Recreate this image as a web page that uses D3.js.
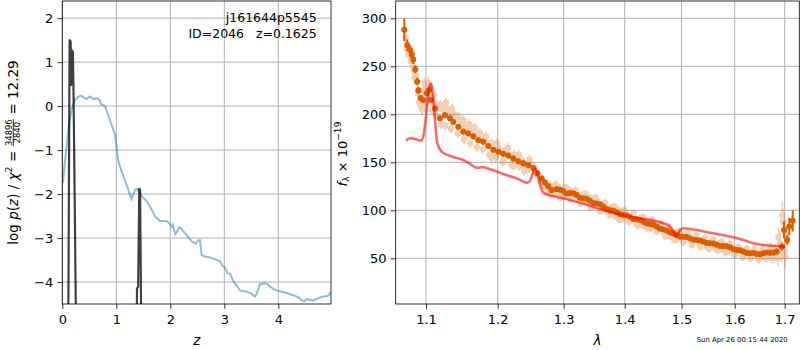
<!DOCTYPE html>
<html>
<head>
<meta charset="utf-8">
<script src="https://cdn.jsdelivr.net/npm/d3@7"></script>
<style>
body { margin: 0; background: #fff; }
svg { font-family: "DejaVu Sans", sans-serif; }
</style>
</head>
<body>
<script>
// ---- left panel: redshift fit ----
var chiZ = [0.01,0.05,0.08,0.12,0.17,0.235,0.29,0.328,0.35,0.39,0.45,0.51,0.575,0.64,0.685,0.73,0.79,0.88,0.976,1.0,1.04,1.1,1.19,1.28,1.35,1.39,1.43,1.47,1.57,1.64,1.72,1.81,1.93,1.97,2.03,2.05,2.09,2.12,2.16,2.19,2.27,2.35,2.40,2.47,2.52,2.55,2.58,2.64,2.73,2.83,2.92,2.97,3.01,3.06,3.11,3.17,3.24,3.29,3.41,3.49,3.57,3.6,3.66,3.75,3.79,3.85,3.94,4.03,4.15,4.28,4.37,4.43,4.48,4.53,4.59,4.65,4.74,4.83,4.91,4.94,4.975];
var chiVal = [-1.75,-1.25,-0.92,-0.45,-0.08,0.14,0.2,0.234,0.24,0.2,0.16,0.22,0.16,0.18,0.14,0.03,0.0,-0.31,-0.65,-0.88,-1.26,-1.49,-1.79,-2.11,-1.9,-1.89,-1.96,-2.05,-2.17,-2.32,-2.51,-2.61,-2.61,-2.65,-2.75,-2.7,-2.91,-2.87,-2.76,-2.77,-2.89,-3.0,-3.08,-3.13,-3.05,-3.05,-3.38,-3.42,-3.44,-3.48,-3.53,-3.64,-3.67,-3.8,-3.82,-3.98,-4.1,-4.19,-4.22,-4.26,-4.33,-4.27,-4.05,-4.03,-4.04,-4.11,-4.18,-4.21,-4.25,-4.3,-4.35,-4.41,-4.44,-4.39,-4.41,-4.42,-4.37,-4.33,-4.32,-4.29,-4.23];

var pzZ = [0.0,0.105,0.111,0.135,0.155,0.165,0.175,0.195,0.205,0.225,0.254,0.26,1.372,1.378,1.383,1.405,1.425,1.44,1.462,1.47,4.976];
var pzLog = [-8,-8,-5,1.5,1.47,0.48,1.27,1.24,0.6,-1.6,-5,-8,-8,-6,-4.15,-4.1,-1.88,-1.9,-5,-8,-8];

var zTicks = [0, 1, 2, 3, 4];
var pTicks = [-4, -3, -2, -1, 0, 1, 2];

// ---- right panel: spectrum ----
// binned points
var specLam = [1.0714,1.0753,1.0788,1.0811,1.0832,1.0858,1.0884,1.0898,1.0930,1.0964,1.1009,1.1040,1.1067,1.1121,1.1188,1.1257,1.1325,1.1371,1.1440,1.1509,1.1579,1.1650,1.1721,1.1792,1.1864,1.1936,1.2009,1.2082,1.2155,1.2229,1.2304,1.2379,1.2454,1.2530,1.2591,1.2658,1.2709,1.2760,1.2813,1.2891,1.2994,1.3100,1.3207,1.3314,1.3422,1.3532,1.3641,1.3752,1.3865,1.3976,1.4090,1.4205,1.4320,1.4437,1.4555,1.4672,1.4792,1.4913,1.5032,1.5155,1.5279,1.5402,1.5527,1.5654,1.5780,1.5909,1.6039,1.6168,1.6300,1.6433,1.6565,1.6701,1.6837,1.6940,1.6986,1.7053,1.7095,1.7166];
var specFlux = [288,272,267,262,257,247,234,225,217,215,222,225,215,206,196,199,196,192,187,182,180,177,173,171.5,167,163,161,159,157,154,151,149,147,144,138.5,133,129,125,121,122,120,118,116,112.5,110,107,104,100,98,95,93,90.6,88,85.7,83,80,77,74,72.5,71,69,67.3,65.6,64,62.8,61.4,58.6,57,55.2,54.5,55.2,55.8,57,62,79.5,69,83,89];
var specErr = [12,6,5,5,5,4,4,4,3,3,3,3,3,3,3,3,3,3,3,3,3,3,3,3,3,3,3,3,3,3,3,3,3,3,3,3,3,3,3,3,2,2,2,2,2,2,2,2,2,2,2,2,2,2,2,2,2,2,2,2,2,2,2,2,2,2,2,2,2,2,2,3,3,4,9,5,9,11];
// extra binned points where the band is dense
var midLam = [1.2942,1.3047,1.3153,1.3260,1.3368,1.3477,1.3586,1.3696,1.3808,1.3920,1.4033,1.4147,1.4262,1.4378,1.4496,1.4613,1.4732,1.4852,1.4972,1.5093,1.5217,1.5340,1.5464,1.5590,1.5717,1.5844,1.5974,1.6103,1.6234,1.6366,1.6499,1.6633,1.6769];
var midFlux = [121.5,117.5,117.8,113,112,107.5,106.2,101.3,99.8,95.8,94.6,91,89.8,86.2,84.9,80.9,79,75.8,72.4,72.2,69.4,68.6,65.9,65.3,62.9,62.6,59.4,58.3,55.5,55.4,54.2,56.1,55.8];
var midErr = [2,2,2,2,2,2,2,2,2,2,2,2,2,2,2,2,2,2,2,2,2,2,2,2,2,2,2,2,2,2,2,2,2];

// unbinned pixels, two passes
var rawLam = [1.073,1.077,1.080,1.082,1.084,1.087,1.089,1.091,1.094,1.096,
  1.098,1.100,1.102,1.104,1.106,1.108,1.110,1.113,1.115,1.118,
  1.120,1.123,1.126,1.128,1.131,1.134,1.137,1.140,1.143,1.146,
  1.149,1.152,1.155,1.158,1.161,1.164,1.167,1.170,1.173,1.176,
  1.179,1.182,1.185,1.188,1.191,1.194,1.197,1.200,1.204,1.208,
  1.212,1.216,1.220,1.224,1.228,1.232,1.236,1.240,1.244,1.248,
  1.252,1.256,1.260,1.264,1.268,1.272,1.276,1.280,1.284,1.288,
  1.292,1.296,1.300,1.305,1.310,1.315,1.320,1.325,1.330,1.336,
  1.342,1.348,1.354,1.360,1.366,1.372,1.378,1.384,1.390,1.396,
  1.402,1.408,1.414,1.420,1.426,1.432,1.438,1.444,1.450,1.456,
  1.462,1.468,1.474,1.480,1.486,1.492,1.498,1.505,1.512,1.519,
  1.526,1.533,1.540,1.547,1.554,1.561,1.568,1.575,1.582,1.589,
  1.596,1.603,1.610,1.617,1.624,1.631,1.638,1.645,1.652,1.659,
  1.666,1.673,1.680,1.686,1.690,1.694,1.697,1.700,1.703];
var rawFlux = [280,262,255,265,245,240,222,212,208,225,
  232,212,230,218,228,205,212,200,210,208,
  190,205,188,206,200,185,201,196,180,195,
  190,174,188,184,170,185,178,166,180,176,
  164,175,170,158,170,165,155,166,162,152,
  163,158,148,158,153,146,152,147,142,148,
  145,140,136,135,128,126,119,116,124,118,
  124,117,122,115,121,113,118,110,116,108,
  113,104,110,101,107,98,103,94,100,91,
  97,89,94,86,92,84,89,81,87,79,
  84,76,80,73,77,70,75,68,73,66,
  71,64,69,62,67,61,65,59,63,57,
  61,55,59,52,58,51,56,52,57,51,
  56,50,58,50,66,56,88,58,74];
var rawErr = [10,8,8,7,7,7,6,6,6,6,
  6,6,6,5,5,5,5,5,5,5,
  5,5,5,5,5,5,5,5,5,5,
  5,5,5,5,5,5,5,5,5,5,
  5,5,5,5,5,5,5,5,5,5,
  5,5,5,5,5,5,5,5,5,5,
  5,5,5,5,5,5,5,5,5,5,
  4,4,4,4,4,4,4,4,4,4,
  4,4,4,4,4,4,4,4,4,4,
  4,4,4,4,4,4,4,4,4,4,
  4,4,4,4,4,4,4,4,4,4,
  4,4,4,4,4,4,4,4,4,4,
  5,5,5,5,5,5,5,5,5,5,
  6,6,7,8,12,10,14,12,10];
var raw2Lam = [1.075,1.085,1.095,1.103,1.111,1.119,1.127,1.135,1.143,1.151,
  1.159,1.167,1.175,1.183,1.191,1.199,1.207,1.215,1.223,1.231,
  1.239,1.247,1.255,1.263,1.271,1.279,1.287,1.295,1.303,1.311,
  1.319,1.327,1.335,1.343,1.351,1.359,1.367,1.375,1.383,1.391,
  1.399,1.407,1.415,1.423,1.431,1.439,1.447,1.455,1.463,1.471,
  1.479,1.487,1.495,1.503,1.511,1.519,1.527,1.535,1.543,1.551,
  1.559,1.567,1.575,1.583,1.591,1.599,1.607,1.615,1.623,1.631,
  1.639,1.647,1.655,1.663,1.671,1.679,1.687,1.695,1.701];
var raw2Flux = [268,238,205,233,220,210,212,206,198,194,
  190,186,180,177,155,170,150,165,146,158,
  141,153,145,130,124,126,127,113,124,112,
  121,107,117,103,113,99,108,95,104,90,
  100,88,97,84,93,81,90,78,86,73,
  82,69,78,67,76,64,74,62,71,60,
  69,58,67,56,65,54,62,51,60,50,
  59,49,60,50,61,52,72,95,52];
var raw2Err = [8,7,6,6,5,5,5,5,5,5,
  5,5,5,5,5,5,5,5,5,5,
  5,5,5,5,5,5,4,4,4,4,
  4,4,4,4,4,4,4,4,4,4,
  4,4,4,4,4,4,4,4,4,4,
  4,4,4,4,4,4,4,4,4,4,
  4,4,4,4,4,4,4,4,4,4,
  5,5,5,5,6,7,10,14,12];

// template fit
var modelLam = [1.0736,1.0788,1.0867,1.0930,1.0964,1.1009,1.1040,1.1067,1.1090,1.1121,1.1152,1.1212,1.1325,1.1487,1.1579,1.1698,1.1792,1.1889,1.2082,1.2280,1.2430,1.2469,1.2506,1.2541,1.2567,1.2606,1.2643,1.2683,1.2760,1.2891,1.3260,1.3641,1.4090,1.4672,1.4779,1.4851,1.4900,1.4942,1.4985,1.5032,1.5155,1.5589,1.5973,1.6168,1.6366,1.6565,1.6837,1.7006];
var modelFlux = [172.2,175,174,172.5,176.7,204.5,227,232,222,194,170,161,156.6,153,149.6,144.4,144.8,142.7,137.8,133.3,128.8,129.8,135,142,142.7,135,124.6,118.3,116,114,108,100.3,93.3,86.5,83.6,77.7,73.2,76,80.2,81.2,80.5,76,71.9,69,65.6,63.9,62.8,62];

var lamTicks = [1.1, 1.2, 1.3, 1.4, 1.5, 1.6, 1.7];
var fluxTicks = [50, 100, 150, 200, 250, 300];

var fs = 13;       // tick font
var labFs = 13.5;  // axis label font
var orange = "#d95f02";

var svg = d3.select("body").append("svg")
    .attr("width", 800)
    .attr("height", 350);

var zx = d3.scaleLinear().domain([0, 4.976]).range([62.3, 331]);
var zy = d3.scaleLinear().domain([-4.5, 2.39]).range([304, 1]);
var lx = d3.scaleLog().domain([1.0603, 1.7304]).range([395.7, 799.3]);
var ly = d3.scaleLinear().domain([2.4, 318]).range([304, 1]);

function frame(x, y, xTicks, yTicks, xFmt, id){
    var x0 = x.range()[0], x1 = x.range()[1], y0 = y.range()[1], y1 = y.range()[0];

    svg.append("clipPath").attr("id", id)
        .append("rect").attr("x", x0).attr("y", y0).attr("width", x1 - x0).attr("height", y1 - y0);

    var grid = svg.append("g").attr("stroke", "#b0b0b0").attr("stroke-width", 1);
    grid.selectAll(".gx").data(xTicks).enter().append("line")
        .attr("x1", function(d){ return x(d); }).attr("x2", function(d){ return x(d); })
        .attr("y1", y0).attr("y2", y1);
    grid.selectAll(".gy").data(yTicks).enter().append("line")
        .attr("y1", function(d){ return y(d); }).attr("y2", function(d){ return y(d); })
        .attr("x1", x0).attr("x2", x1);

    var plot = svg.append("g").attr("clip-path", "url(#" + id + ")");

    var ax = svg.append("g").attr("transform", "translate(0," + y1 + ")")
        .call(d3.axisBottom(x).tickValues(xTicks).tickFormat(xFmt).tickSize(4.9).tickPadding(5.5));
    var ay = svg.append("g").attr("transform", "translate(" + x0 + ",0)")
        .call(d3.axisLeft(y).tickValues(yTicks).tickFormat(d3.format("d")).tickSize(4.9).tickPadding(4.2));
    [ax, ay].forEach(function(a){
        a.select(".domain").remove();
        a.selectAll("text").attr("font-size", fs).attr("font-family", "DejaVu Sans").attr("fill", "#000");
        a.selectAll("line").attr("stroke", "#000").attr("stroke-width", 0.8);
    });

    return {plot: plot, box: [x0, y0, x1, y1]};
}

function border(b){
    svg.append("rect").attr("x", b[0]).attr("y", b[1])
        .attr("width", b[2] - b[0]).attr("height", b[3] - b[1])
        .attr("fill", "none").attr("stroke", "#000").attr("stroke-width", 0.8);
}

// label with sub/superscripts and a small fraction, laid out left to right
function mathLabel(g, parts, size){
    var cx = 0;
    parts.forEach(function(p){
        if (p.frac) {
            var s = size * 0.62;
            var num = g.append("text").attr("font-size", s).attr("text-anchor", "middle").text(p.frac[0]);
            var den = g.append("text").attr("font-size", s).attr("text-anchor", "middle").text(p.frac[1]);
            var w = Math.max(num.node().getComputedTextLength(), den.node().getComputedTextLength()) + 1;
            num.attr("x", cx + w / 2).attr("y", -size * 0.44);
            den.attr("x", cx + w / 2).attr("y", size * 0.22);
            g.append("line").attr("x1", cx).attr("x2", cx + w)
                .attr("y1", -size * 0.31).attr("y2", -size * 0.31)
                .attr("stroke", "#000").attr("stroke-width", 0.7);
            cx += w;
        } else {
            var t = g.append("text").attr("x", cx).attr("y", (p.dy || 0) * size)
                .attr("font-size", size * (p.s || 1))
                .attr("font-style", p.i ? "italic" : null)
                .style("white-space", "pre")
                .text(p.t);
            cx += t.node().getComputedTextLength();
        }
    });
    return cx;
}

function rotLabel(x, y, parts, size){
    var outer = svg.append("g").attr("transform", "translate(" + x + "," + y + ") rotate(-90)");
    var inner = outer.append("g");
    var w = mathLabel(inner, parts, size);
    inner.attr("transform", "translate(" + (-w / 2) + ",0)");
}

function errDots(g, lam, flux, err, r, lw){
    g.append("g").selectAll("line").data(flux).enter().append("line")
        .attr("x1", function(d, i){ return lx(lam[i]); })
        .attr("x2", function(d, i){ return lx(lam[i]); })
        .attr("y1", function(d, i){ return ly(d - err[i]); })
        .attr("y2", function(d, i){ return ly(d + err[i]); })
        .attr("stroke", orange).attr("stroke-width", lw);
    g.append("g").selectAll("circle").data(flux).enter().append("circle")
        .attr("cx", function(d, i){ return lx(lam[i]); })
        .attr("cy", function(d){ return ly(d); })
        .attr("r", r)
        .attr("fill", orange);
}

// ---- left panel ----
var left = frame(zx, zy, zTicks, pTicks, d3.format("d"), "clipL");

var chiLine = d3.line()
    .x(function(d, i){ return zx(chiZ[i]); })
    .y(function(d){ return zy(d); });
left.plot.append("path").datum(chiVal)
    .attr("d", chiLine)
    .attr("fill", "none").attr("stroke", "#1f77b4").attr("stroke-opacity", 0.5)
    .attr("stroke-width", 2);

var pzLine = d3.line()
    .x(function(d, i){ return zx(pzZ[i]); })
    .y(function(d){ return zy(d); });
left.plot.append("path").datum(pzLog)
    .attr("d", pzLine)
    .attr("fill", "none").attr("stroke", "#000").attr("stroke-opacity", 0.75)
    .attr("stroke-width", 2.2).attr("stroke-linejoin", "round");

border(left.box);

svg.append("text").attr("x", 316.7).attr("y", 22.3).attr("text-anchor", "end")
    .attr("font-size", 12.5).text("j161644p5545");
svg.append("text").attr("x", 316.7).attr("y", 38.3).attr("text-anchor", "end")
    .attr("font-size", 12.5).style("white-space", "pre")
    .text("ID=2046   z=0.1625");

svg.append("text").attr("x", 196.7).attr("y", 344.5).attr("text-anchor", "middle")
    .attr("font-size", labFs).attr("font-style", "italic").text("z");

rotLabel(17.5, 152.5, [
    {t: "log "}, {t: "p", i: 1}, {t: "("}, {t: "z", i: 1}, {t: ")"}, {t: " / "},
    {t: "χ", i: 1}, {t: "2", s: 0.7, dy: -0.42}, {t: " = "},
    {frac: ["34896", "2840"]}, {t: " = 12.29"}
], labFs);

// ---- right panel ----
var right = frame(lx, ly, lamTicks, fluxTicks, d3.format(".1f"), "clipR");

var raw = right.plot.append("g").attr("opacity", 0.3);
errDots(raw, rawLam, rawFlux, rawErr, 3.2, 1.5);
errDots(raw, raw2Lam, raw2Flux, raw2Err, 3.2, 1.5);

var binned = right.plot.append("g");
errDots(binned, specLam, specFlux, specErr, 3, 2);
errDots(binned, midLam, midFlux, midErr, 3, 2);

var modelLine = d3.line()
    .x(function(d, i){ return lx(modelLam[i]); })
    .y(function(d){ return ly(d); })
    .curve(d3.curveMonotoneX);
right.plot.append("path").datum(modelFlux)
    .attr("d", modelLine)
    .attr("fill", "none").attr("stroke", "red").attr("stroke-opacity", 0.6)
    .attr("stroke-width", 2.5).attr("stroke-linejoin", "round");

border(right.box);

svg.append("text").attr("x", 597.5).attr("y", 344.5).attr("text-anchor", "middle")
    .attr("font-size", labFs).attr("font-style", "italic").text("λ");

rotLabel(346.5, 154, [
    {t: "f", i: 1}, {t: "λ", s: 0.7, dy: 0.22}, {t: " × 10"}, {t: "−19", s: 0.7, dy: -0.45}
], 13);

svg.append("text").attr("x", 787.7).attr("y", 341.7).attr("text-anchor", "end")
    .attr("font-size", 6.9).text("Sun Apr 26 00:15:44 2020");
</script>
</body>
</html>
